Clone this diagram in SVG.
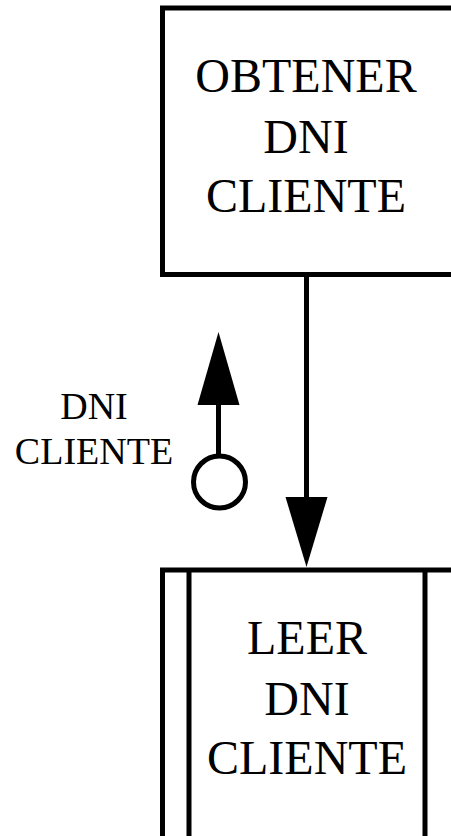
<svg xmlns="http://www.w3.org/2000/svg" width="451" height="836" viewBox="0 0 451 836">
  <style>
    .box { fill: #fff; stroke: #000; stroke-width: 5; }
    .ln { stroke: #000; stroke-width: 5; fill: none; }
    .head { fill: #000; stroke: none; }
    .t { font-family: "Liberation Serif", "Times New Roman", serif; fill: #000; text-anchor: middle; }
    .big { font-size: 48px; }
    .small { font-size: 38px; }
  </style>
  <rect width="451" height="836" fill="#fff"/>
  <g id="connectors">
    <line class="ln" x1="306.5" y1="274.5" x2="306.5" y2="500"/>
    <polygon class="head" points="306.5,567 285.5,497 327.5,497"/>
    <line class="ln" x1="218.5" y1="456" x2="218.5" y2="400"/>
    <polygon class="head" points="218.5,332 197.5,405 239.5,405"/>
    <circle class="ln" cx="219.5" cy="482" r="26" fill="#fff"/>
    <text class="t small" x="94" y="419">DNI</text>
    <text class="t small" x="94" y="464">CLIENTE</text>
  </g>
  <g id="obtener">
    <rect class="box" x="162.5" y="8" width="300" height="266.5"/>
    <text class="t big" x="306" y="92">OBTENER</text>
    <text class="t big" x="306" y="153">DNI</text>
    <text class="t big" x="306" y="212">CLIENTE</text>
  </g>
  <g id="leer">
    <rect class="box" x="162.5" y="570" width="300" height="300"/>
    <line class="ln" x1="189" y1="570" x2="189" y2="870"/>
    <line class="ln" x1="425" y1="570" x2="425" y2="870"/>
    <text class="t big" x="307" y="654">LEER</text>
    <text class="t big" x="307" y="715">DNI</text>
    <text class="t big" x="307" y="774">CLIENTE</text>
  </g>
</svg>
